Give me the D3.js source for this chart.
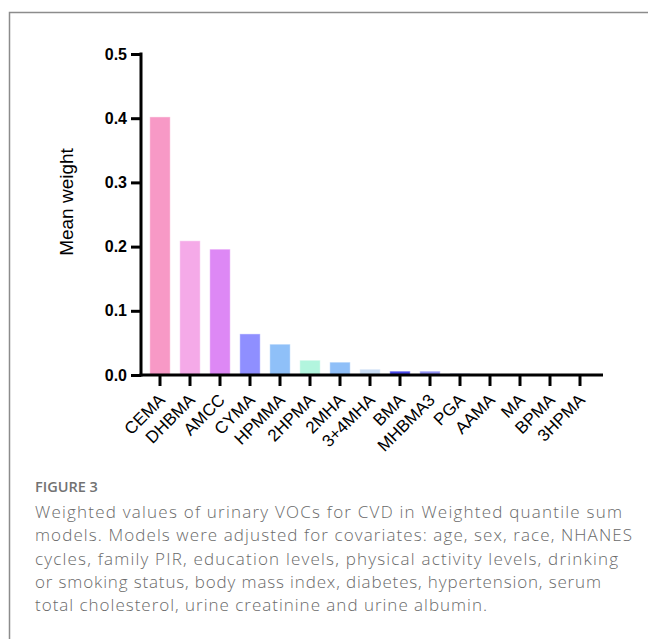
<!DOCTYPE html>
<html>
<head>
<meta charset="utf-8">
<script src="https://cdn.jsdelivr.net/npm/d3@7"></script>
<style>
  body { margin: 0; background: #fff; }
  svg { display: block; }
</style>
</head>
<body>
<svg id="chart"></svg>
<script>
// data
const compounds = ["CEMA", "DHBMA", "AMCC", "CYMA", "HPMMA", "2HPMA", "2MHA", "3+4MHA",
                   "BMA", "MHBMA3", "PGA", "AAMA", "MA", "BPMA", "3HPMA"];
const weights = [0.402, 0.209, 0.196, 0.064, 0.048, 0.023, 0.020, 0.009,
                 0.006, 0.006, 0.003, 0, 0, 0, 0];
const barColors = ["#f799c6", "#f5aae8", "#dd88f5", "#8f8fff", "#8fc0f8", "#b2f5de", "#8fbff8", "#c8dcf5",
                   "#4848e8", "#8f8ff2", "#c4cce8", "#c4cce8", "#c4cce8", "#c4cce8", "#c4cce8"];
const yTicks = [0, 0.1, 0.2, 0.3, 0.4, 0.5];
const yLabel = "Mean weight";
const figLabel = "FIGURE 3";
const captionLines = [
  "Weighted values of urinary VOCs for CVD in Weighted quantile sum",
  "models. Models were adjusted for covariates: age, sex, race, NHANES",
  "cycles, family PIR, education levels, physical activity levels, drinking",
  "or smoking status, body mass index, diabetes, hypertension, serum",
  "total cholesterol, urine creatinine and urine albumin."
];
// line widths as they appear in the figure
const captionWidths = [587, 597, 583, 566, 452];

const W = 648, H = 639;
const svg = d3.select("#chart").attr("width", W).attr("height", H);
const chartFont = "'Liberation Sans', Arial, sans-serif";

// frame (top and left rule)
svg.append("path")
    .attr("d", `M9.5,${H} V12.5 H${W}`)
    .attr("fill", "none")
    .attr("stroke", "#8c8c8c")
    .attr("stroke-width", 1.5);

const data = compounds.map((c, i) => ({ name: c, value: weights[i], color: barColors[i] }));

const x = d3.scaleBand()
    .domain(compounds)
    .range([145, 595])
    .paddingInner(0.32)
    .paddingOuter(0.16);

const y = d3.scaleLinear()
    .domain([0, 0.5])
    .range([375, 54]);

// bars
svg.append("g").selectAll("rect")
  .data(data)
  .join("rect")
    .attr("x", d => x(d.name))
    .attr("y", d => y(d.value))
    .attr("width", x.bandwidth())
    .attr("height", d => y(0) - y(d.value))
    .attr("fill", d => d.color)
    .attr("stroke", "#fff")
    .attr("stroke-opacity", 0.45)
    .attr("stroke-width", 1);

// Y axis
const yAxisG = svg.append("g")
    .attr("transform", "translate(141,0)")
    .call(d3.axisLeft(y).tickValues(yTicks).tickFormat(d3.format(".1f"))
      .tickSize(10).tickSizeOuter(0).tickPadding(4));
yAxisG.select(".domain").attr("stroke", "#000").attr("stroke-width", 3)
    .attr("d", `M0,${y(0) + 1.5}V${y(0.5) - 1.5}`);
yAxisG.selectAll(".tick line").attr("stroke", "#000").attr("stroke-width", 3);
yAxisG.selectAll(".tick text")
    .attr("fill", "#000")
    .style("font-family", chartFont)
    .style("font-size", "16px")
    .style("font-weight", "bold");

// X axis
const xAxisG = svg.append("g")
    .attr("transform", `translate(0,${y(0)})`)
    .call(d3.axisBottom(x).tickSize(11).tickSizeOuter(0));
xAxisG.select(".domain").remove();
xAxisG.append("line")
    .attr("x1", 139.5).attr("x2", 603)
    .attr("stroke", "#000").attr("stroke-width", 3);
xAxisG.selectAll(".tick line").attr("stroke", "#000").attr("stroke-width", 3);
xAxisG.selectAll(".tick text")
    .attr("fill", "#000")
    .attr("y", 0).attr("dy", 0)
    .attr("text-anchor", "end")
    .attr("transform", "translate(6,26) rotate(-45)")
    .style("font-family", chartFont)
    .style("font-size", "17px");

// Y axis title
svg.append("text")
    .attr("transform", "translate(73,202) rotate(-90)")
    .attr("text-anchor", "middle")
    .style("font-family", chartFont)
    .style("font-size", "19px")
    .text(yLabel);

// caption
const capFont = "'Open Sans', 'Noto Sans', sans-serif";
svg.append("text")
    .attr("x", 35).attr("y", 492)
    .attr("fill", "#727272")
    .style("font-family", capFont)
    .style("font-size", "14.5px")
    .style("font-weight", "600")
    .text(figLabel);

const cap = svg.append("g");
cap.selectAll("text")
  .data(captionLines)
  .join("text")
    .attr("x", 35)
    .attr("y", (d, i) => 518 + i * 23.3)
    .attr("fill", "#6a6a6a")
    .style("font-family", capFont)
    .style("font-size", "17px")
    .style("font-weight", "300")
    .attr("textLength", (d, i) => captionWidths[i])
    .attr("lengthAdjust", "spacing")
    .text(d => d);
</script>
</body>
</html>
